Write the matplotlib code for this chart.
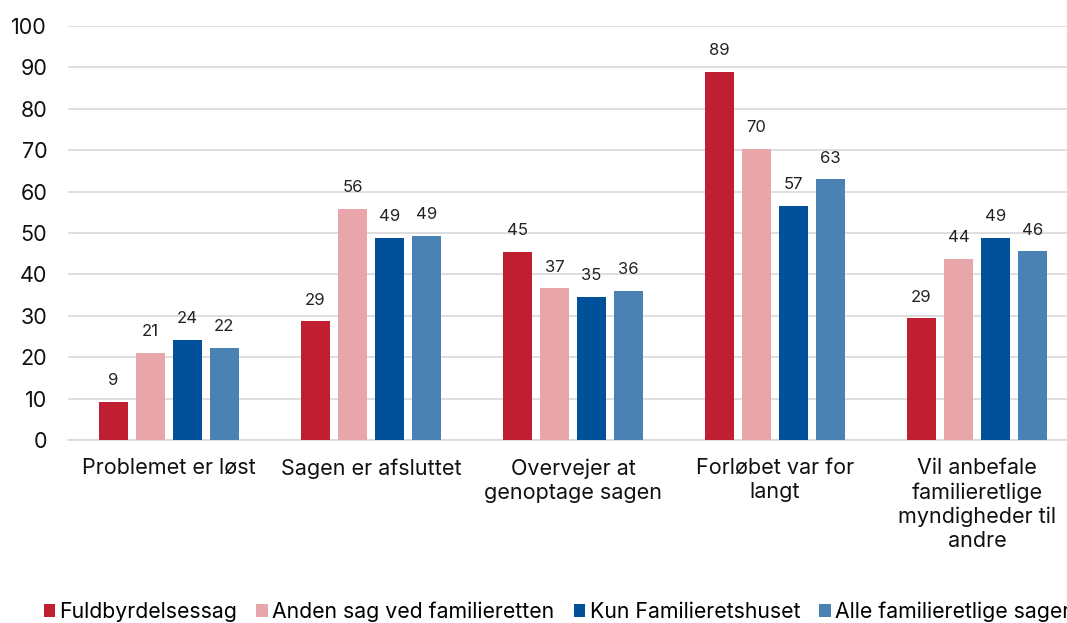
import matplotlib
matplotlib.use("Agg")
import matplotlib.pyplot as plt
import numpy as np

categories = ["Problemet er løst", "Sagen er afsluttet", "Overvejer at\ngenoptage sagen",
              "Forløbet var for\nlangt", "Vil anbefale\nfamilieretlige\nmyndigheder til\nandre"]
series_names = ["Fuldbyrdelsessag", "Anden sag ved familieretten", "Kun Familieretshuset",
                "Alle familieretlige sager"]
fuldbyrdelse = [9.2, 28.7, 45.4, 88.9, 29.4]
anden_sag = [21.0, 55.8, 36.6, 70.3, 43.7]
kun_fh = [24.2, 48.8, 34.6, 56.6, 48.8]
alle = [22.2, 49.3, 36.0, 63.0, 45.6]
colors = ["#C01F32", "#E8A6AB", "#00509A", "#4A82B4"]
yticks = [0, 10, 20, 30, 40, 50, 60, 70, 80, 90, 100]

plt.rcParams['font.family'] = ['Inter', 'DejaVu Sans']

fig = plt.figure(figsize=(10.67, 6.23), dpi=100)
ax = fig.add_axes([68/1067, 183/623, 1010/1067, 414/623])

x = np.arange(len(categories))
width = 0.144
pitch = 0.183
data = [fuldbyrdelse, anden_sag, kun_fh, alle]
for i, (vals, name, c) in enumerate(zip(data, series_names, colors)):
    pos = x + (i - 1.5) * pitch
    ax.bar(pos, vals, width, color=c, label=name, zorder=3)
    for xp, v in zip(pos, vals):
        ax.text(xp, v + 3.3, f"{v:.0f}", ha='center', va='bottom', fontsize=12, color='#222222')

ax.set_xlim(-0.5, 4.5)
ax.set_ylim(0, 100)
ax.set_yticks(yticks)
ax.set_yticklabels([str(t) for t in yticks], fontsize=15.5)
ax.set_xticks(x)
ax.set_xticklabels(categories, fontsize=15.5, va='top', linespacing=1.25)
ax.tick_params(axis='both', length=0, colors='#111111')
ax.tick_params(axis='x', pad=13)
ax.tick_params(axis='y', pad=15)
ax.grid(axis='y', color='#d9d9d9', linewidth=1.2, zorder=0)
for s in ['top', 'right', 'left']:
    ax.spines[s].set_visible(False)
ax.spines['bottom'].set_color('#d9d9d9')
ax.spines['bottom'].set_linewidth(1.2)

handles, labels = ax.get_legend_handles_labels()
fig.legend(handles, labels, loc='center left', bbox_to_anchor=(35/1067, 11/623), ncol=4,
           frameon=False, fontsize=15.3, handlelength=0.55, handleheight=0.55,
           handletextpad=0.2, columnspacing=0.9, borderaxespad=0)

fig.savefig("out.png", dpi=100)
